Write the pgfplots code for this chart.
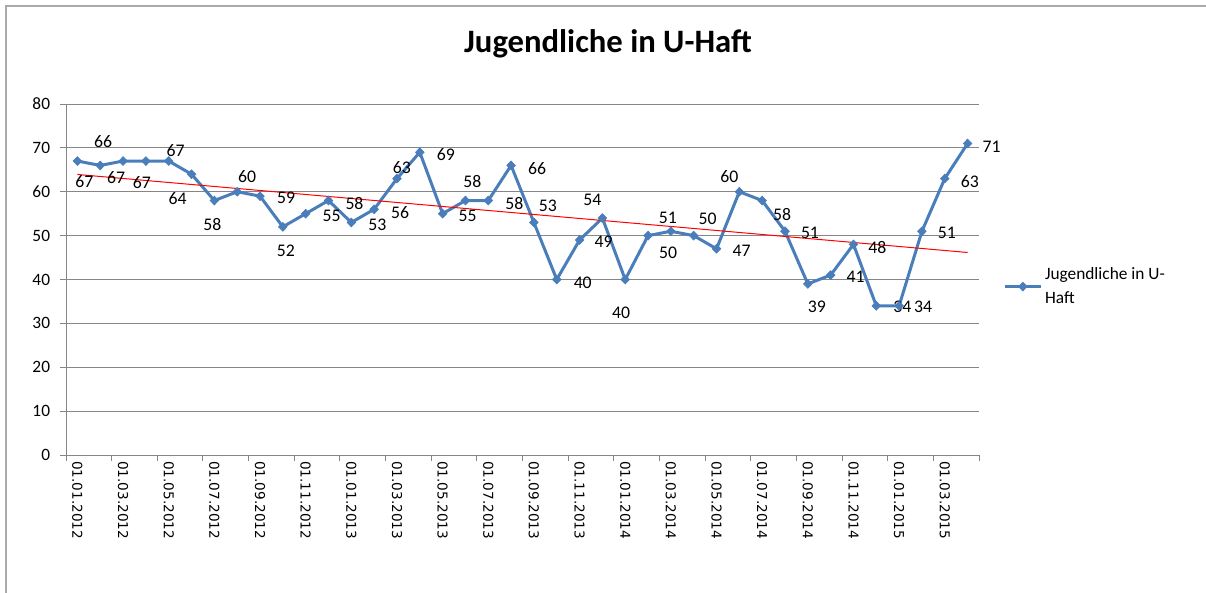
\documentclass[border=0pt]{standalone}
\usepackage{pgfplots}
\pgfplotsset{compat=1.18}
\usepackage{fontspec}
\setmainfont{Carlito}
\newfontfamily\dejavu{DejaVu Sans}

\definecolor{serie}{RGB}{74,126,187}
\definecolor{gridc}{RGB}{134,134,134}
\definecolor{framec}{RGB}{170,170,170}
\newcommand{\dl}[1]{\hspace*{4.5bp}#1}

\begin{document}
\begin{tikzpicture}
\path[use as bounding box] (0bp,0bp) rectangle (904.5bp,-444.75bp);
\begin{scope}[x=0.75bp,y=-0.75bp]
\draw[line width=1.5bp, framec] (6,600) -- (6,6) -- (1210,6);
\node[anchor=base, font=\bfseries\fontsize{24.5bp}{30bp}\selectfont] at (608,52) {Jugendliche in U-Haft};
\end{scope}
\begin{axis}[
  at={(49.5bp,-341.25bp)}, anchor=south west,
  width=684.75bp, height=263.25bp, scale only axis,
  xmin=-0.5, xmax=39.5, ymin=0, ymax=80,
  axis lines*=left,
  axis line style={gridc, line width=0.75bp},
  tick style={gridc, line width=0.75bp},
  tick align=outside,
  major tick length=4.25bp,
  ytick={0,10,...,80},
  ymajorgrids,
  grid style={gridc, line width=0.75bp},
  /pgf/number format/assume math mode=true,
  yticklabel style={font=\fontsize{13bp}{15bp}\selectfont, inner sep=0pt, xshift=-7.5bp},
  xticklabel style={rotate=-90, anchor=west, inner sep=0pt, font=\dejavu\fontsize{10.2bp}{12bp}\selectfont},
  xtick={-0.5,1.5,...,39.5},
  xticklabels={},
  extra x ticks={0,2,...,38},
  extra x tick labels={\dl{01.01.2012},\dl{01.03.2012},\dl{01.05.2012},\dl{01.07.2012},\dl{01.09.2012},\dl{01.11.2012},\dl{01.01.2013},\dl{01.03.2013},\dl{01.05.2013},\dl{01.07.2013},\dl{01.09.2013},\dl{01.11.2013},\dl{01.01.2014},\dl{01.03.2014},\dl{01.05.2014},\dl{01.07.2014},\dl{01.09.2014},\dl{01.11.2014},\dl{01.01.2015},\dl{01.03.2015}},
  extra x tick style={major tick length=0pt, tick style={draw=none}},
  clip=false,
  legend style={draw=none, fill=none, at={(1.022,0.55)}, anchor=north west, font=\fontsize{13bp}{18bp}\selectfont, cells={align=left}},
  legend cell align=left,
  legend image code/.code={\draw[mark repeat=2, mark phase=2, #1] plot coordinates {(0bp,0bp) (13.5bp,0bp) (27bp,0bp)};},
]
% x = month index (0 = 01.01.2012), y = value, dx/up = label offset in px
\addplot[serie, line width=2.25bp, mark=diamond*, mark size=3.3bp,
  mark options={solid, fill=serie, draw=serie, line width=0.5bp, xscale=1.3},
  forget plot,
  nodes near coords, point meta=explicit,
  visualization depends on={\thisrow{dx}\as\dx},
  visualization depends on={\thisrow{up}\as\up},
  nodes near coords style={anchor=center, text=black, font=\fontsize{13.3bp}{15bp}\selectfont, xshift=\dx*0.75bp, yshift=\up*0.75bp}]
  table[x=x, y=y, meta=y] {
x y dx up
0 67 7 -21
1 66 3 24
2 67 -7 -17
3 67 -4 -22
4 67 7 10
5 64 -14 -24
6 58 -2 -24
7 60 10 15
8 59 26 -2
9 52 3 -24
10 55 26 -2
11 58 26 -3
12 53 26 -2
13 56 26 -3
14 63 5 11
15 69 26 -2
16 55 25 -2
17 58 7 19
18 58 26 -3
19 66 26 -3
20 53 14 17
21 40 26 -3
22 49 24 -2
23 54 -10 18
24 40 -4 -33
25 50 20 -17
26 51 -3 13
27 50 14 17
28 47 25 -2
29 60 -10 15
30 58 20 -14
31 51 25 -2
32 39 9 -23
33 41 25 -2
34 48 24 -3
35 34 26 -1
36 34 24 -1
37 51 25 -2
38 63 25 -3
39 71 24 -3
};
\addplot[red, line width=0.75bp, no marks, forget plot] coordinates {(0,63.94) (39,46.16)};
\addlegendimage{serie, line width=2.25bp, mark=diamond*, mark size=3.3bp, mark options={solid, fill=serie, draw=serie, line width=0.5bp, xscale=1.3}}
\addlegendentry{Jugendliche in U-\\Haft}
\end{axis}
\end{tikzpicture}
\end{document}
